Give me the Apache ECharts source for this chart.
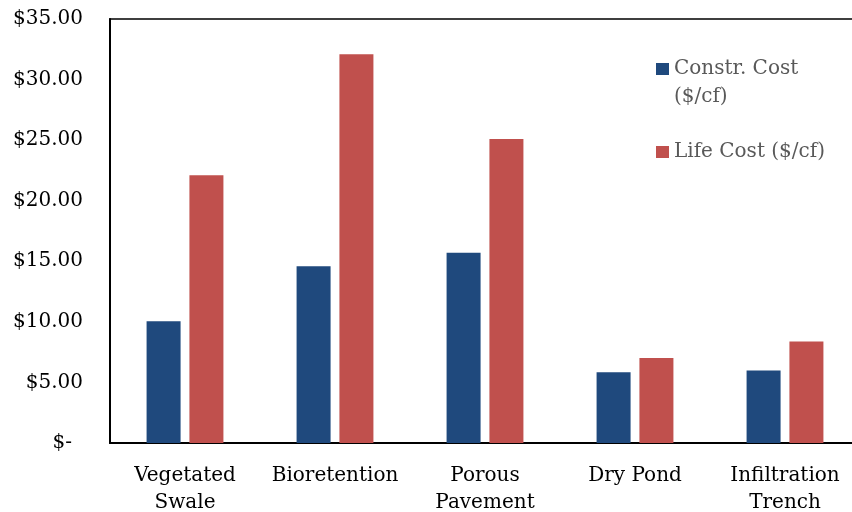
<!DOCTYPE html>
<html>
<head>
<meta charset="utf-8">
<script src="https://cdn.jsdelivr.net/npm/echarts@6/dist/echarts.min.js"></script>
<style>html,body{margin:0;padding:0;background:#fff}#c{width:852px;height:512px}</style>
</head>
<body>
<div id="c"></div>
<script>
var categories = ['Vegetated\nSwale', 'Bioretention', 'Porous\nPavement', 'Dry Pond', 'Infiltration\nTrench'];
var constrCost = [10.05, 14.6, 15.7, 5.84, 5.98];
var lifeCost = [22.1, 32.1, 25.1, 7.02, 8.38];
var seriesNames = ['Constr. Cost ($/cf)', 'Life Cost ($/cf)'];
var yTickLabels = ['$-', '$5.00', '$10.00', '$15.00', '$20.00', '$25.00', '$30.00', '$35.00'];

var FONT = 'DejaVu Serif';
var chart = echarts.init(document.getElementById('c'));
chart.setOption({
  animation: false,
  backgroundColor: '#fff',
  grid: { left: 110, top: 19, width: 750, height: 424, containLabel: false, outerBoundsMode: 'none', show: true, borderColor: '#000', borderWidth: 1.5, backgroundColor: 'transparent' },
  legend: [
    {
      data: [seriesNames[0]],
      left: 656, top: 27, padding: 0,
      itemWidth: 13, itemHeight: 12, icon: 'rect',
      formatter: function () { return ' \nConstr. Cost\n($/cf)'; },
      textStyle: { fontFamily: FONT, fontSize: 20, color: '#595959', lineHeight: 28 }
    },
    {
      data: [seriesNames[1]],
      left: 656, top: 138, padding: 0,
      itemWidth: 13, itemHeight: 12, icon: 'rect',
      textStyle: { fontFamily: FONT, fontSize: 20, color: '#595959', lineHeight: 28 }
    }
  ],
  xAxis: {
    type: 'category',
    data: categories,
    axisLine: { show: true, lineStyle: { color: '#000', width: 2 } },
    axisTick: { show: false },
    axisLabel: { fontFamily: FONT, fontSize: 20, color: '#000', lineHeight: 27, margin: 19, interval: 0 }
  },
  yAxis: {
    type: 'value',
    min: 0, max: 35, interval: 5,
    axisLine: { show: true, lineStyle: { color: '#000', width: 2 } },
    axisTick: { show: false },
    splitLine: { show: false },
    axisLabel: {
      fontFamily: FONT, fontSize: 20, color: '#000', margin: 27,
      formatter: function (v) {
        var s = yTickLabels[Math.round(v / 5)];
        return v === 0 ? '{z|' + s + '}' : s;
      },
      rich: { z: { fontFamily: FONT, fontSize: 20, color: '#000', padding: [0, 11, 0, 0] } }
    }
  },
  series: [
    { name: seriesNames[0], type: 'bar', data: constrCost, barWidth: 34, barGap: '26%', itemStyle: { color: '#1F497D' } },
    { name: seriesNames[1], type: 'bar', data: lifeCost, barWidth: 34, barGap: '26%', itemStyle: { color: '#C0504D' } }
  ]
});
</script>
</body>
</html>
